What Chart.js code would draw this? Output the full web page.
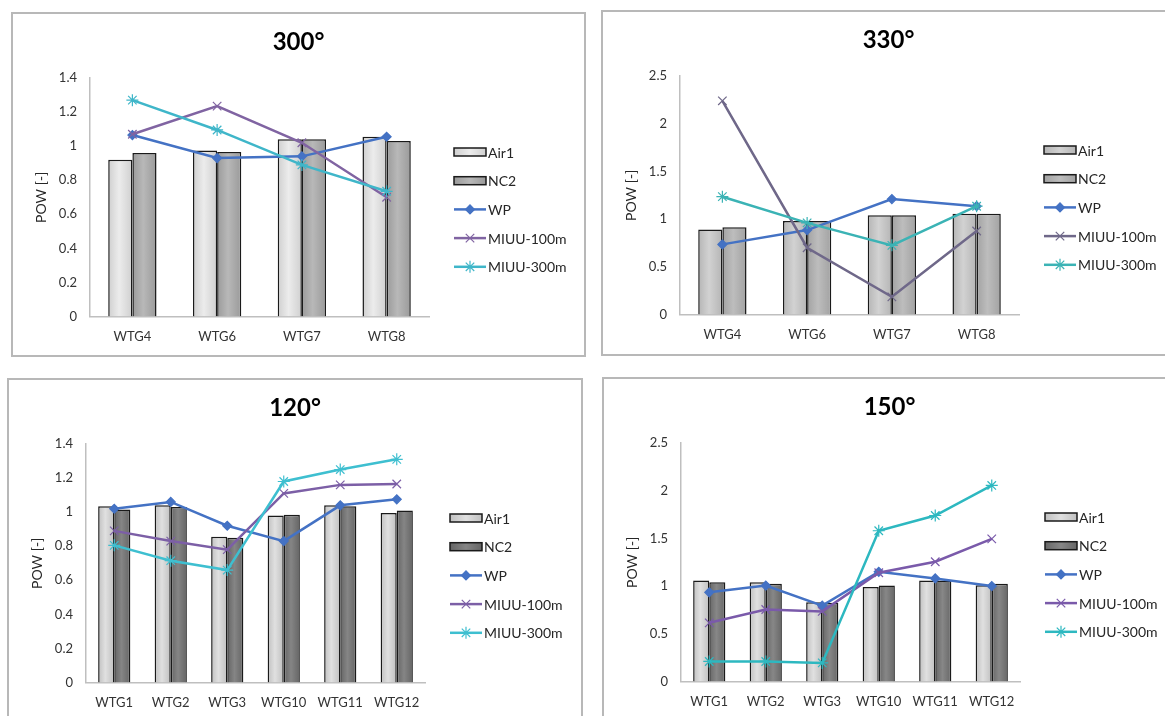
<!DOCTYPE html>
<html>
<head>
<meta charset="utf-8">
<script src="https://cdn.jsdelivr.net/npm/chart.js@4.4.1/dist/chart.umd.min.js"></script>
<style>
  html, body { margin: 0; padding: 0; background: #fff; width: 1165px; height: 716px; overflow: hidden; }
  .panel { position: absolute; border: 2px solid #b8b8b8; box-sizing: border-box; background: #fff; }
  .panel canvas { position: absolute; left: 0; top: 0; }
</style>
</head>
<body>
<div class="panel" style="left:11px;top:12px;width:575px;height:345px"><canvas id="c300" width="571" height="341"></canvas></div>
<div class="panel" style="left:601px;top:10px;width:575px;height:346px"><canvas id="c330" width="571" height="342"></canvas></div>
<div class="panel" style="left:7px;top:378px;width:576px;height:345px"><canvas id="c120" width="572" height="341"></canvas></div>
<div class="panel" style="left:602px;top:377px;width:575px;height:345px"><canvas id="c150" width="571" height="341"></canvas></div>
<script>
const seriesNames = ["Air1", "NC2", "WP", "MIUU-100m", "MIUU-300m"];
const turbinesWest = ["WTG4", "WTG6", "WTG7", "WTG8"];
const turbinesEast = ["WTG1", "WTG2", "WTG3", "WTG10", "WTG11", "WTG12"];

// 300°
const air1_300 = [0.92, 0.975, 1.04, 1.055];
const nc2_300 = [0.96, 0.965, 1.04, 1.03];
const wp_300 = [1.065, 0.93, 0.94, 1.055];
const miuu100_300 = [1.07, 1.235, 1.02, 0.70];
const miuu300_300 = [1.27, 1.095, 0.89, 0.735];

// 330°
const air1_330 = [0.89, 0.98, 1.04, 1.055];
const nc2_330 = [0.915, 0.98, 1.04, 1.055];
const wp_330 = [0.735, 0.885, 1.21, 1.135];
const miuu100_330 = [2.24, 0.70, 0.185, 0.875];
const miuu300_330 = [1.235, 0.96, 0.725, 1.135];

// 120°
const air1_120 = [1.035, 1.04, 0.855, 0.98, 1.04, 0.995];
const nc2_120 = [1.015, 1.03, 0.85, 0.985, 1.035, 1.01];
const wp_120 = [1.02, 1.06, 0.92, 0.83, 1.04, 1.075];
const miuu100_120 = [0.89, 0.83, 0.78, 1.11, 1.16, 1.165];
const miuu300_120 = [0.805, 0.715, 0.66, 1.18, 1.25, 1.31];

// 150°
const air1_150 = [1.06, 1.04, 0.83, 0.99, 1.06, 1.01];
const nc2_150 = [1.04, 1.025, 0.825, 1.005, 1.06, 1.025];
const wp_150 = [0.935, 1.005, 0.795, 1.15, 1.08, 1.0];
const miuu100_150 = [0.615, 0.755, 0.735, 1.14, 1.255, 1.495];
const miuu300_150 = [0.21, 0.21, 0.195, 1.58, 1.74, 2.055];

// y axis ranges [max, step]
const axis300 = [1.4, 0.2];
const axis330 = [2.5, 0.5];
const axis120 = [1.4, 0.2];
const axis150 = [2.5, 0.5];

const FONT = "Lato, 'Open Sans', sans-serif";
const AREA = { left: 77, top: 64, right: 416, bottom: 302.5 };
const CAT_PCT = 0.57;

const legendPlugin = {
  id: "sideLegend",
  afterDraw(chart) {
    const { ctx, chartArea } = chart;
    const x = chartArea.right + 25;
    ctx.save();
    chart.data.datasets.forEach((ds, i) => {
      const y = chartArea.top + 74 + i * 28.7;
      if (ds.type === "bar") {
        const g = ctx.createLinearGradient(x, 0, x + 32, 0);
        g.addColorStop(0, ds.baseColor);
        g.addColorStop(0.5, ds.lightColor);
        g.addColorStop(1, ds.baseColor);
        ctx.fillStyle = g;
        ctx.fillRect(x, y - 4, 32, 8);
        ctx.strokeStyle = "#1a1a1a";
        ctx.lineWidth = 1.5;
        ctx.strokeRect(x, y - 4, 32, 8);
      } else {
        ctx.strokeStyle = ds.borderColor;
        ctx.lineWidth = 2.5;
        ctx.beginPath();
        ctx.moveTo(x, y);
        ctx.lineTo(x + 32, y);
        ctx.stroke();
        ctx.fillStyle = ds.borderColor;
        ctx.lineWidth = 1.2;
        Chart.helpers.drawPoint(ctx, {
          pointStyle: ds.pointStyle,
          radius: ds.pointRadius,
          borderWidth: 1.2,
          rotation: 0
        }, x + 16, y);
      }
      ctx.fillStyle = "#262626";
      ctx.font = "14px " + FONT;
      ctx.textBaseline = "middle";
      ctx.textAlign = "left";
      ctx.fillText(ds.label, x + 34, y + 1);
    });
    ctx.restore();
  }
};

function lineSet(label, data, color, style, radius, order) {
  return {
    type: "line",
    label,
    data,
    borderColor: color,
    backgroundColor: color,
    borderWidth: 2.5,
    pointStyle: style,
    pointRadius: radius,
    pointBorderColor: color,
    pointBackgroundColor: color,
    pointBorderWidth: 1.2,
    tension: 0,
    order
  };
}

// bar fill: Excel-like gradient, lighter in the middle of each bar
function barFill(base, light, side) {
  return (context) => {
    const chart = context.chart;
    const area = chart.chartArea;
    if (!area || context.type !== "data") return base;
    const n = chart.data.labels.length;
    const bw = (area.width / n) * CAT_PCT / 2;
    const center = chart.scales.x.getPixelForValue(context.dataIndex) + side * bw / 2;
    const g = chart.ctx.createLinearGradient(center - bw / 2, 0, center + bw / 2, 0);
    g.addColorStop(0, base);
    g.addColorStop(0.45, light);
    g.addColorStop(1, base);
    return g;
  };
}

function barSet(label, data, colors, side) {
  return {
    type: "bar",
    label,
    data,
    baseColor: colors[0],
    lightColor: colors[1],
    backgroundColor: barFill(colors[0], colors[1], side),
    borderColor: "#1a1a1a",
    borderWidth: 1.5,
    categoryPercentage: CAT_PCT,
    barPercentage: 1,
    order: 4
  };
}

function makePanel(canvasId, title, labels, series, axis, colors) {
  const canvas = document.getElementById(canvasId);
  const W = canvas.width;
  const H = canvas.height;
  return new Chart(canvas, {
    data: {
      labels,
      datasets: [
        barSet(seriesNames[0], series[0], colors.air1, -1),
        barSet(seriesNames[1], series[1], colors.nc2, 1),
        lineSet(seriesNames[2], series[2], colors.wp, "rectRot", 4.5, 3),
        lineSet(seriesNames[3], series[3], colors.m100, "crossRot", 6, 2),
        lineSet(seriesNames[4], series[4], colors.m300, "star", 6, 1)
      ]
    },
    options: {
      responsive: false,
      animation: false,
      layout: { padding: 0 },
      plugins: {
        legend: { display: false },
        tooltip: { enabled: false },
        title: {
          display: true,
          text: title,
          color: "#000",
          font: { family: FONT, size: 24, weight: "bold", lineHeight: 1.2 },
          padding: { top: 13.6, bottom: AREA.top - 13.6 - 28.8 }
        }
      },
      scales: {
        x: {
          grid: { display: false, drawTicks: false },
          border: { display: true, color: "#bfbfbf", width: 1.5 },
          ticks: { color: "#333", font: { family: FONT, size: 13 }, padding: 13, maxRotation: 0, autoSkip: false },
          afterFit(scale) { scale.height = H - AREA.bottom; }
        },
        y: {
          min: 0,
          max: axis[0],
          grid: { display: false, drawTicks: false },
          border: { display: true, color: "#bfbfbf", width: 1.5 },
          ticks: {
            stepSize: axis[1],
            color: "#333",
            font: { family: FONT, size: 13 },
            padding: 13,
            callback: (v) => String(+v.toFixed(2))
          },
          title: {
            display: true,
            text: "POW [-]",
            color: "#262626",
            font: { family: FONT, size: 14 },
            padding: { top: 20, bottom: 4 }
          },
          afterFit(scale) { scale.width = AREA.left; }
        },
        legendSpace: {
          type: "linear",
          position: "right",
          display: true,
          grid: { display: false },
          border: { display: false },
          ticks: { display: false },
          afterFit(scale) { scale.width = W - AREA.right; }
        }
      }
    },
    plugins: [legendPlugin]
  });
}

makePanel("c300", "300°", turbinesWest,
  [air1_300, nc2_300, wp_300, miuu100_300, miuu300_300], axis300,
  { air1: ["#cfcfcf", "#ececec"], nc2: ["#9a9a9a", "#b8b8b8"], wp: "#4472c4", m100: "#8064a2", m300: "#3fb6c9" });
makePanel("c330", "330°", turbinesWest,
  [air1_330, nc2_330, wp_330, miuu100_330, miuu300_330], axis330,
  { air1: ["#b5b5b5", "#d2d2d2"], nc2: ["#a2a2a2", "#bdbdbd"], wp: "#4472c4", m100: "#6f6889", m300: "#3bb3b5" });
makePanel("c120", "120°", turbinesEast,
  [air1_120, nc2_120, wp_120, miuu100_120, miuu300_120], axis120,
  { air1: ["#c0c0c0", "#e0e0e0"], nc2: ["#656565", "#858585"], wp: "#4472c4", m100: "#7c5fa6", m300: "#3ebfd0" });
makePanel("c150", "150°", turbinesEast,
  [air1_150, nc2_150, wp_150, miuu100_150, miuu300_150], axis150,
  { air1: ["#c0c0c0", "#e0e0e0"], nc2: ["#676767", "#878787"], wp: "#4472c4", m100: "#7a5aaa", m300: "#2db8c0" });
</script>
</body>
</html>
